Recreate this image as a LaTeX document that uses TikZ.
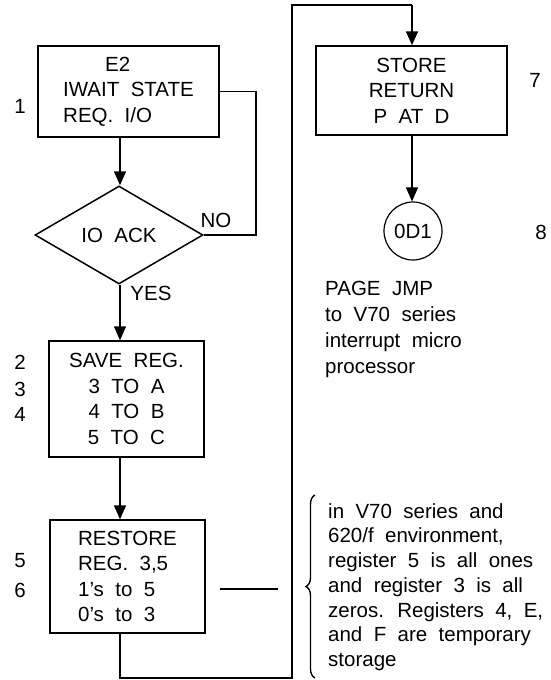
\documentclass[tikz,border=0pt]{standalone}
\usepackage{fontspec}
\setmainfont{Liberation Sans}[WordSpace=2.0]
\newfontfamily\notefont{Liberation Sans}[WordSpace=2.0]
\usetikzlibrary{shapes.geometric,arrows.meta,decorations.pathreplacing}
\tikzset{
  txt/.style={font=\fontsize{20.5}{25.5}\selectfont, inner sep=0pt},
  box/.style={draw, line width=1.5pt, rectangle, inner sep=0pt, txt},
  dec/.style={draw, line width=1.5pt, diamond, inner sep=0pt, txt, minimum width=168pt, minimum height=98pt},
  term/.style={draw, line width=1.2pt, circle, inner sep=0pt, txt, minimum size=58pt},
  flow/.style={line width=1.5pt},
  arr/.style={flow, -{Triangle[length=14pt,width=12pt]}},
  num/.style={txt},
  note/.style={inner sep=0pt, align=left, font=\notefont\fontsize{20.5}{24.7}\selectfont}
}
\begin{document}
\begin{tikzpicture}[x=1pt,y=-1pt]
\useasboundingbox (0,0) rectangle (550,680);
\coordinate (axis) at (120,0);
% left column
\node[box, minimum width=181pt, minimum height=91pt, align=left] (e2) at (128.5,91.5)
  {\hspace*{42pt}E2\\IWAIT STATE\\REQ. I/O};
\node[dec] (ack) at (119,235) {IO ACK};
\node[box, minimum width=155pt, minimum height=116pt, align=center] (save) at (126.5,399)
  {SAVE REG.\\3 TO A\\4 TO B\\5 TO C};
\node[box, minimum width=155pt, minimum height=113pt, align=left] (rest) at (127.5,576.5)
  {RESTORE\\REG. 3,5\\1's to 5\\0's to 3};
% right column
\node[box, minimum width=191pt, minimum height=89pt, align=center] (store) at (411.5,90.5)
  {STORE\\RETURN\\P AT D};
\node[term] (od1) at (413,231) {0D1};
\node[note, anchor=west, font=\notefont\fontsize{20.5}{26}\selectfont] (page) at (325,329)
  {PAGE JMP\\to V70 series\\interrupt micro\\processor};
% step numbers
\node[num] (n1) at (20,106) {1};
\node[num] (n2) at (20,362) {2};
\node[num] (n3) at (20,389) {3};
\node[num] (n4) at (20,414) {4};
\node[num] (n5) at (20,561) {5};
\node[num] (n6) at (20,590) {6};
\node[num] (n7) at (535,80) {7};
\node[num] (n8) at (541,232) {8};
% branch labels
\node[txt] (no) at (216,220) {NO};
\node[txt] (yes) at (151,293) {YES};
% connectors
\draw[arr] (axis |- e2.south) -- (axis |- ack.north);
\coordinate (fb) at (256,235);
\draw[flow] (ack.east) -- (fb) |- (e2.east);
\draw[arr] (axis |- ack.south) -- (axis |- save.north);
\draw[arr] (axis |- save.south) -- (axis |- rest.north);
\coordinate (c1) at (120,678);
\coordinate (c2) at (292,678);
\coordinate (c3) at (292,5);
\coordinate (c4) at (412,5);
\draw[flow] (axis |- rest.south) -- (c1) -- (c2) -- (c3) -- (c4);
\draw[arr] (c4) -- (c4 |- store.north);
\draw[arr] (c4 |- store.south) -- (c4 |- od1.north);
% side note
\coordinate (t1) at (220,589);
\coordinate (t2) at (278,589);
\draw[flow] (t1) -- (t2);
\coordinate (b1) at (315,678);
\coordinate (b2) at (315,495);
\draw[line width=1.4pt, decorate, decoration={brace, amplitude=9pt}] (b1) -- (b2);
\node[note, anchor=west] (remark) at (328,587)
  {in V70 series and\\620/f environment,\\register 5 is all ones\\and register 3 is all\\zeros. Registers 4, E,\\and F are temporary\\storage};
\end{tikzpicture}
\end{document}
